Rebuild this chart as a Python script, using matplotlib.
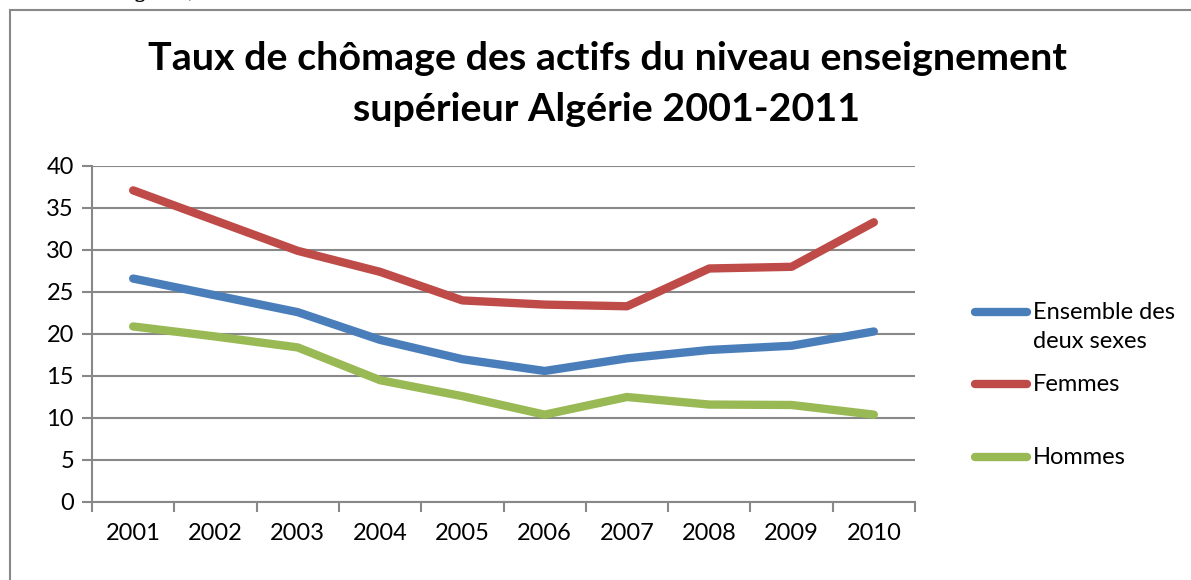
import matplotlib
matplotlib.use("Agg")
import matplotlib.pyplot as plt
from matplotlib.lines import Line2D
from matplotlib.patches import Rectangle

# données
annees = ["2001", "2002", "2003", "2004", "2005", "2006", "2007", "2008", "2009", "2010"]
ensemble = [26.6, 24.6, 22.6, 19.3, 17.0, 15.6, 17.1, 18.1, 18.6, 20.3]
femmes = [37.1, 33.5, 29.9, 27.4, 24.0, 23.5, 23.3, 27.8, 28.0, 33.3]
hommes = [20.9, 19.7, 18.4, 14.5, 12.6, 10.4, 12.5, 11.6, 11.55, 10.4]

series = [
    ("Ensemble des\ndeux sexes", ensemble, "#4A7EBB"),
    ("Femmes", femmes, "#BE4B48"),
    ("Hommes", hommes, "#98B954"),
]

plt.rcParams["font.family"] = ["Lato", "DejaVu Sans"]

W, H = 1191, 580
fig = plt.figure(figsize=(W / 100, H / 100), dpi=100)

def fx(px):
    return px / W

def fy(py):
    return 1 - py / H

# cadre du graphique (coupé à droite et en bas)
fig.add_artist(Rectangle((fx(10), fy(640)), fx(1300), 630 / H, transform=fig.transFigure,
                         fill=False, edgecolor="#888888", linewidth=1.5))

# texte coupé en haut de la page
fig.text(fx(118), fy(-3), "ngère)", fontsize=17, family="DejaVu Serif", va="baseline")

ax = fig.add_axes([fx(92), fy(502), fx(915) - fx(92), (502 - 166) / H])
x = list(range(len(annees)))
for nom, vals, couleur in series:
    ax.plot(x, vals, color=couleur, linewidth=6, solid_capstyle="round",
            solid_joinstyle="round", zorder=3)

ax.set_ylim(0, 40)
ax.set_yticks(range(0, 41, 5))
ax.set_xlim(-0.5, len(annees) - 0.5)
ax.set_xticks([i - 0.5 for i in range(len(annees) + 1)])
ax.set_xticklabels([])
ax.set_xticks(x, minor=True)
ax.set_xticklabels(annees, minor=True)
ax.tick_params(axis="x", which="major", length=7, width=1.5, color="#888888", direction="out")
ax.tick_params(axis="x", which="minor", length=0, pad=15, labelsize=17)
ax.tick_params(axis="y", length=7, width=1.5, color="#888888", labelsize=17, pad=6)
ax.grid(axis="y", color="#888888", linewidth=1.5)
ax.set_axisbelow(True)
for s in ["top", "right"]:
    ax.spines[s].set_visible(False)
for s in ["left", "bottom"]:
    ax.spines[s].set_color("#888888")
    ax.spines[s].set_linewidth(1.5)

# titre
fig.text(fx(608), fy(70), "Taux de chômage des actifs du niveau enseignement",
         ha="center", va="baseline", fontsize=28.4, fontweight="bold")
fig.text(fx(607), fy(121), "supérieur Algérie 2001-2011",
         ha="center", va="baseline", fontsize=28.4, fontweight="bold")

# légende
leg_y = [312, 384, 457]
for (nom, vals, couleur), py in zip(series, leg_y):
    fig.add_artist(Line2D([fx(975), fx(1027)], [fy(py), fy(py)], transform=fig.transFigure,
                          color=couleur, linewidth=6, solid_capstyle="round"))
    fig.text(fx(1033), fy(py - 10), nom, fontsize=17, va="top", ha="left",
             linespacing=1.5)

fig.savefig("out.png", dpi=100)
